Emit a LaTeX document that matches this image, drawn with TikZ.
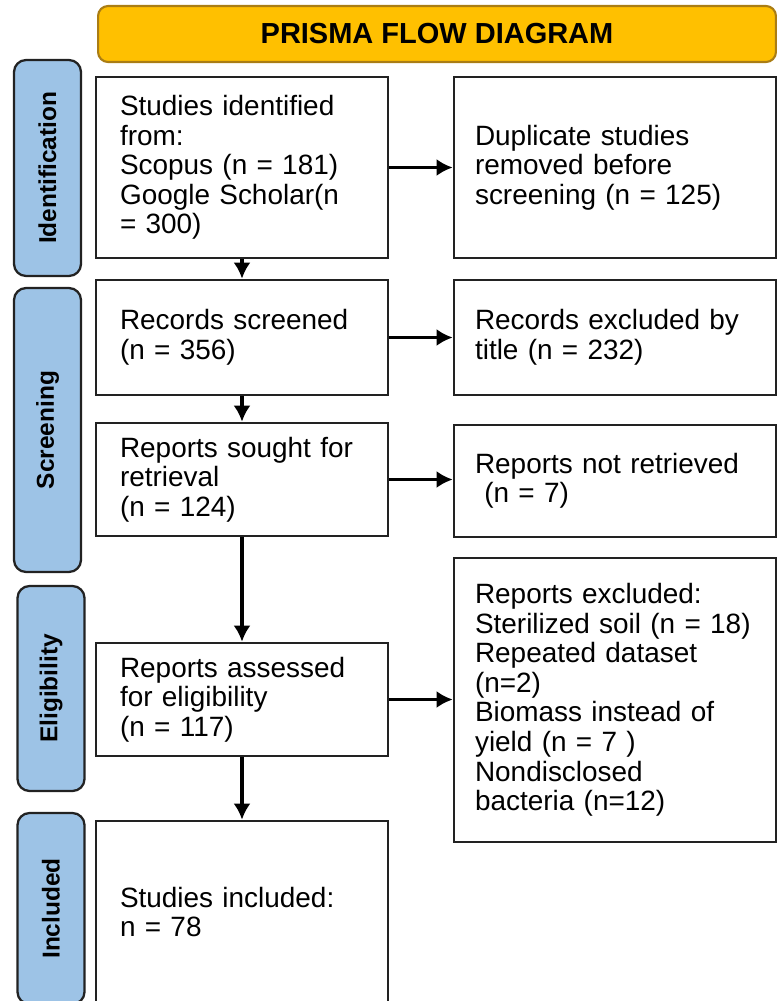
\documentclass[tikz,border=0pt]{standalone}
\usepackage{fontspec}
\setmainfont{Liberation Sans}
\usepackage{tikz}
\definecolor{stageblue}{RGB}{157,195,230}
\definecolor{titlegold}{RGB}{255,192,0}
\definecolor{titleline}{RGB}{170,125,20}
\definecolor{boxline}{RGB}{34,34,34}
\usetikzlibrary{positioning,arrows.meta}
\tikzset{%
  box/.style={draw=boxline, line width=1.5pt, fill=white, align=left,
    font=\fontsize{15.9}{16.8}\selectfont},% white flow box
  leftbox/.style={box, text width=4.88cm, inner xsep=0.48cm},% main column
  rightbox/.style={box, text width=5.6cm, inner xsep=0.42cm},% exclusions
  stage/.style={draw=boxline, line width=1.3pt, fill=stageblue,
    rounded corners=0.24cm, rotate=90, minimum height=1.34cm,
    font=\bfseries\fontsize{13.9}{15}\selectfont},% phase label at left
  titlebar/.style={draw=titleline, line width=1.2pt, fill=titlegold,
    rounded corners=0.2cm, minimum width=13.56cm, minimum height=1.12cm,
    font=\bfseries\fontsize{16.5}{18}\selectfont},
  flow/.style={line width=2pt, -{Latex[length=0.32cm,width=0.34cm]}}% arrows
}

\begin{document}
\begin{tikzpicture}[x=0.02cm, y=-0.02cm]
\useasboundingbox (0,0) rectangle (777,1001);
\clip (0,0) rectangle (777,1001);

\node[titlebar] (title) at (437,34) {PRISMA FLOW DIAGRAM};

\node[stage, minimum width=4.32cm] (ph1) at (47.5,168) {Identification};
\node[stage, minimum width=5.68cm] (ph2) at (47.5,430) {Screening};
\node[stage, minimum width=4.10cm] (ph3) at (51,688.5) {Eligibility};
\node[stage, minimum width=3.82cm] (ph4) at (51,908.5) {Included};

\node[leftbox, minimum height=3.62cm] (found) at (242,167.5)
  {Studies identified\\ from:\\ Scopus (n = 181)\\ Google Scholar(n\\ = 300)};
\node[leftbox, minimum height=2.30cm] (screened) at (242,337.5)
  {Records screened\\ (n = 356)};
\node[leftbox, minimum height=2.26cm] (sought) at (242,479.5)
  {Reports sought for\\ retrieval\\ (n = 124)};
\node[leftbox, minimum height=2.26cm] (assessed) at (242,699.5)
  {Reports assessed\\ for eligibility\\ (n = 117)};
\node[leftbox, minimum height=3.64cm] (included) at (242,912)
  {Studies included:\\ n = 78};

\node[rightbox, minimum height=3.62cm] (dupl) at (615,167.5)
  {Duplicate studies\\ removed before\\ screening (n = 125)};
\node[rightbox, minimum height=2.30cm] (bytitle) at (615,337.5)
  {Records excluded by\\ title (n = 232)};
\node[rightbox, minimum height=2.24cm] (notret) at (615,481)
  {Reports not retrieved\\ \ (n = 7)};
\node[rightbox, minimum height=5.68cm] (excl) at (615,700)
  {Reports excluded:\\ Sterilized soil (n = 18)\\ Repeated dataset\\ (n=2)\\
   Biomass instead of\\ yield (n = 7 )\\ Nondisclosed\\ bacteria (n=12)};

\draw[flow] (found) -- (screened);
\draw[flow] (screened) -- (sought);
\draw[flow] (sought) -- (assessed);
\draw[flow] (assessed) -- (included);

\draw[flow] (found) -- (dupl);
\draw[flow] (screened) -- (bytitle);
\draw[flow] (sought.east) -- (sought.east -| notret.west);
\draw[flow] (assessed.east) -- (assessed.east -| excl.west);

\end{tikzpicture}
\end{document}
